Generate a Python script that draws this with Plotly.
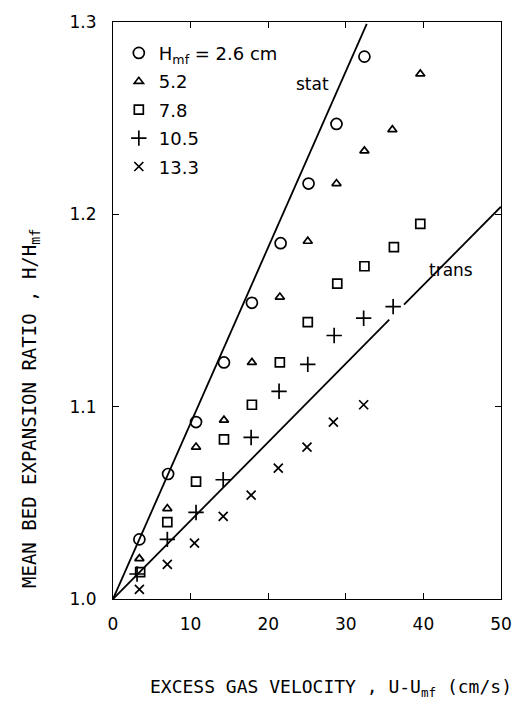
import plotly.graph_objects as go

# ---- data ----
x_26 = [3.4, 7.1, 10.7, 14.3, 17.9, 21.6, 25.2, 28.8, 32.4]
y_26 = [1.031, 1.065, 1.092, 1.123, 1.154, 1.185, 1.216, 1.247, 1.282]

x_52 = [3.4, 7.0, 10.7, 14.3, 17.9, 21.5, 25.1, 28.8, 32.4, 36.0, 39.6]
y_52 = [1.021, 1.047, 1.079, 1.093, 1.123, 1.157, 1.186, 1.216, 1.233, 1.244, 1.273]

x_78 = [3.5, 7.0, 10.7, 14.3, 17.9, 21.5, 25.1, 28.9, 32.4, 36.2, 39.6]
y_78 = [1.014, 1.040, 1.061, 1.083, 1.101, 1.123, 1.144, 1.164, 1.173, 1.183, 1.195]

x_105 = [3.1, 7.0, 10.7, 14.2, 17.8, 21.4, 25.1, 28.5, 32.3, 36.1]
y_105 = [1.013, 1.031, 1.045, 1.062, 1.084, 1.108, 1.122, 1.137, 1.146, 1.152]

x_133 = [3.4, 7.0, 10.5, 14.2, 17.8, 21.3, 25.0, 28.4, 32.3]
y_133 = [1.005, 1.018, 1.029, 1.043, 1.054, 1.068, 1.079, 1.092, 1.101]

stat_x = [0, 32.7]
stat_y = [1.0, 1.299]
trans_x = [0, 35.6, None, 37.5, 50]
trans_y = [1.0, 1.1452, None, 1.153, 1.204]

series_names = ["H<sub>mf</sub> = 2.6 cm", "5.2", "7.8", "10.5", "13.3"]
symbols = ["circle-open", "triangle-up-open", "square-open", "cross-thin-open", "x-thin-open"]
sizes = [11, 8, 9, 11, 9]

x_ticks = [0, 10, 20, 30, 40, 50]
y_ticks = [1.0, 1.1, 1.2, 1.3]
y_tick_labels = ["1.0", "1.1", "1.2", "1.3"]

fig = go.Figure()

fig.add_trace(go.Scatter(x=stat_x, y=stat_y, mode="lines",
                         line=dict(color="black", width=1.8), showlegend=False,
                         hoverinfo="skip"))
fig.add_trace(go.Scatter(x=trans_x, y=trans_y, mode="lines",
                         line=dict(color="black", width=1.8), showlegend=False,
                         connectgaps=False, hoverinfo="skip"))

all_x = [x_26, x_52, x_78, x_105, x_133]
all_y = [y_26, y_52, y_78, y_105, y_133]
for i, (xs, ys) in enumerate(zip(all_x, all_y)):
    fig.add_trace(go.Scatter(
        x=xs, y=ys, mode="markers", name=series_names[i],
        legendgroup=f"g{i}",
        marker=dict(symbol=symbols[i], size=sizes[i], color="black",
                    line=dict(color="black", width=1.7)),
    ))

font_main = "DejaVu Sans"
font_mono = "DejaVu Sans Mono"

fig.update_layout(
    width=524, height=726,
    margin=dict(l=113, r=22, t=13, b=127),
    paper_bgcolor="white", plot_bgcolor="white",
    showlegend=True,
    legend=dict(x=0.015, y=0.978, xanchor="left", yanchor="top",
                bgcolor="rgba(0,0,0,0)", borderwidth=0,
                font=dict(family=font_main, size=18, color="black"),
                traceorder="grouped", tracegroupgap=2,
                itemwidth=30),
    xaxis=dict(range=[0, 50], tickvals=x_ticks, ticks="inside", ticklen=6,
               tickwidth=1.2, tickcolor="black", showline=True, linecolor="black",
               linewidth=1.2, mirror="ticks", showgrid=False, zeroline=False,
               tickfont=dict(family=font_main, size=17, color="black"),
               ticklabelstandoff=9),
    yaxis=dict(range=[1.0, 1.3], tickvals=y_ticks, ticktext=y_tick_labels,
               ticks="inside", ticklen=6, tickwidth=1.2, tickcolor="black",
               showline=True, linecolor="black", linewidth=1.2, mirror="ticks",
               showgrid=False, zeroline=False,
               tickfont=dict(family=font_main, size=17, color="black"),
               ticklabelstandoff=12),
    annotations=[
        dict(text="stat", x=25.7, y=1.268, xref="x", yref="y", showarrow=False,
             font=dict(family=font_main, size=17, color="black")),
        dict(text="trans", x=43.6, y=1.171, xref="x", yref="y", showarrow=False,
             font=dict(family=font_main, size=17, color="black")),
        dict(text="EXCESS GAS VELOCITY , U-U<sub>mf</sub> (cm/s)",
             x=0.563, y=-0.155, xref="paper", yref="paper", showarrow=False,
             xanchor="center", yanchor="middle",
             font=dict(family=font_mono, size=18, color="black")),
        dict(text="MEAN BED EXPANSION RATIO , H/H<sub>mf</sub>",
             x=-0.213, y=0.33, xref="paper", yref="paper", showarrow=False,
             textangle=-90, xanchor="center", yanchor="middle",
             font=dict(family=font_mono, size=19, color="black")),
    ],
)

fig.write_html("out.html")
